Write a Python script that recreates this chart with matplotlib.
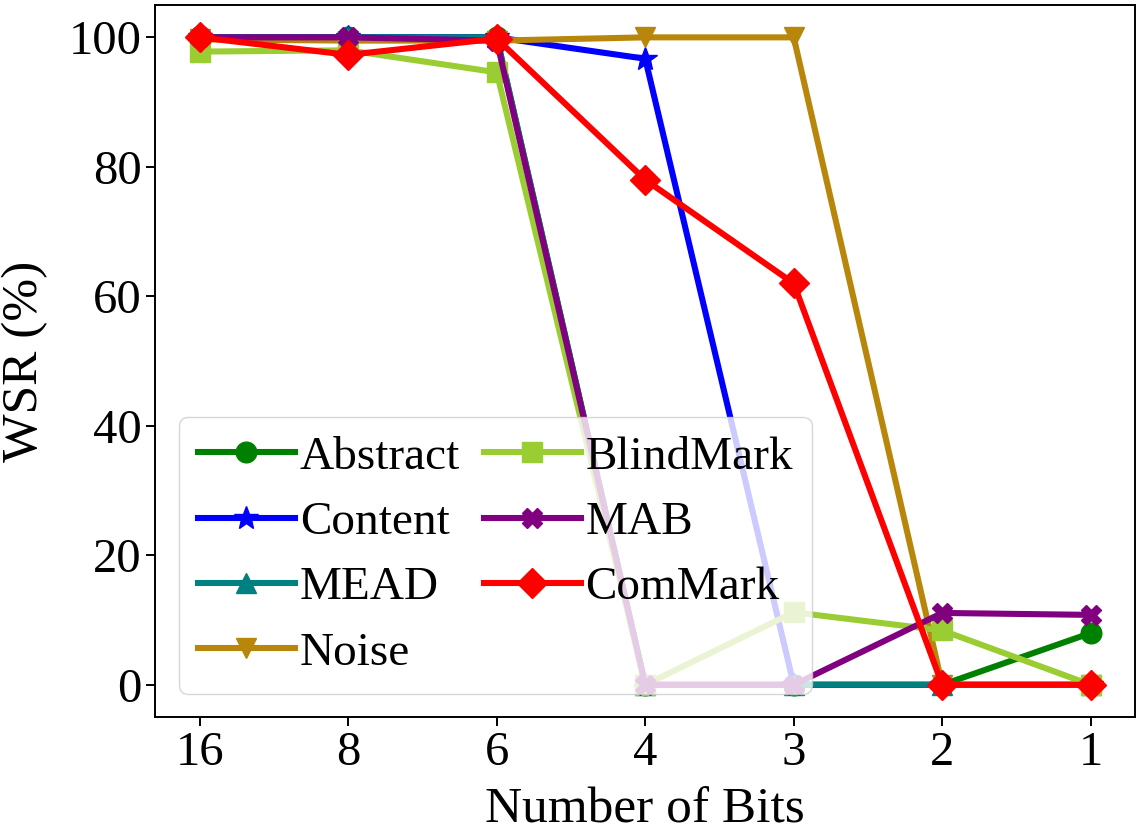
import numpy as np
import matplotlib.pyplot as plt

plt.rcParams['font.family'] = 'serif'
plt.rcParams['font.serif'] = ['Liberation Serif', 'DejaVu Serif']

bits = ['16', '8', '6', '4', '3', '2', '1']

abstract = [100, 100, 100, 0, 0, 0, 8.0]
content = [100, 100, 100, 96.7, 0, 0, 0]
mead = [100, 100, 100, 0, 0, 0, 0]
noise = [99.7, 99.5, 99.5, 100, 100, 0, 0]
blindmark = [97.8, 98.0, 94.6, 0, 11.2, 8.4, 0]
mab = [100, 100, 99.5, 0, 0, 11.1, 10.8]
commark = [100, 97.3, 99.8, 78.0, 62.0, 0, 0]

S = 1.75
fs = 20 * S
lw = 2.5 * S
ms = 8.5 * S

x = np.arange(len(bits))

fig, ax = plt.subplots(figsize=(11.41, 8.32), dpi=100)
ax.plot(x, abstract, color='green', marker='o', lw=lw, ms=ms, label='Abstract')
ax.plot(x, content, color='blue', marker='*', lw=lw, ms=ms * 1.2, label='Content')
ax.plot(x, mead, color='teal', marker='^', lw=lw, ms=ms, label='MEAD')
ax.plot(x, noise, color='darkgoldenrod', marker='v', lw=lw, ms=ms, label='Noise')
ax.plot(x, blindmark, color='yellowgreen', marker='s', lw=lw, ms=ms, label='BlindMark')
ax.plot(x, mab, color='purple', marker='X', lw=lw, ms=ms, label='MAB')
ax.plot(x, commark, color='red', marker='D', lw=lw, ms=ms, label='ComMark')

ax.set_xticks(x)
ax.set_xticklabels(bits)
ax.set_yticks([0, 20, 40, 60, 80, 100])
ax.tick_params(labelsize=fs, length=3.5 * S, width=0.8 * S)
for sp in ax.spines.values():
    sp.set_linewidth(0.8 * S)
ax.set_xlabel('Number of Bits', fontsize=37, labelpad=9)
ax.set_ylabel('WSR (%)', fontsize=37, labelpad=15)
ax.legend(ncol=2, loc='lower left', fontsize=34, handlelength=2.06,
          columnspacing=0.5, handletextpad=0.1, labelspacing=0.47, borderpad=0.4)

fig.subplots_adjust(left=0.136, right=0.995, top=0.994, bottom=0.138)
plt.savefig('out.png', dpi=100)
